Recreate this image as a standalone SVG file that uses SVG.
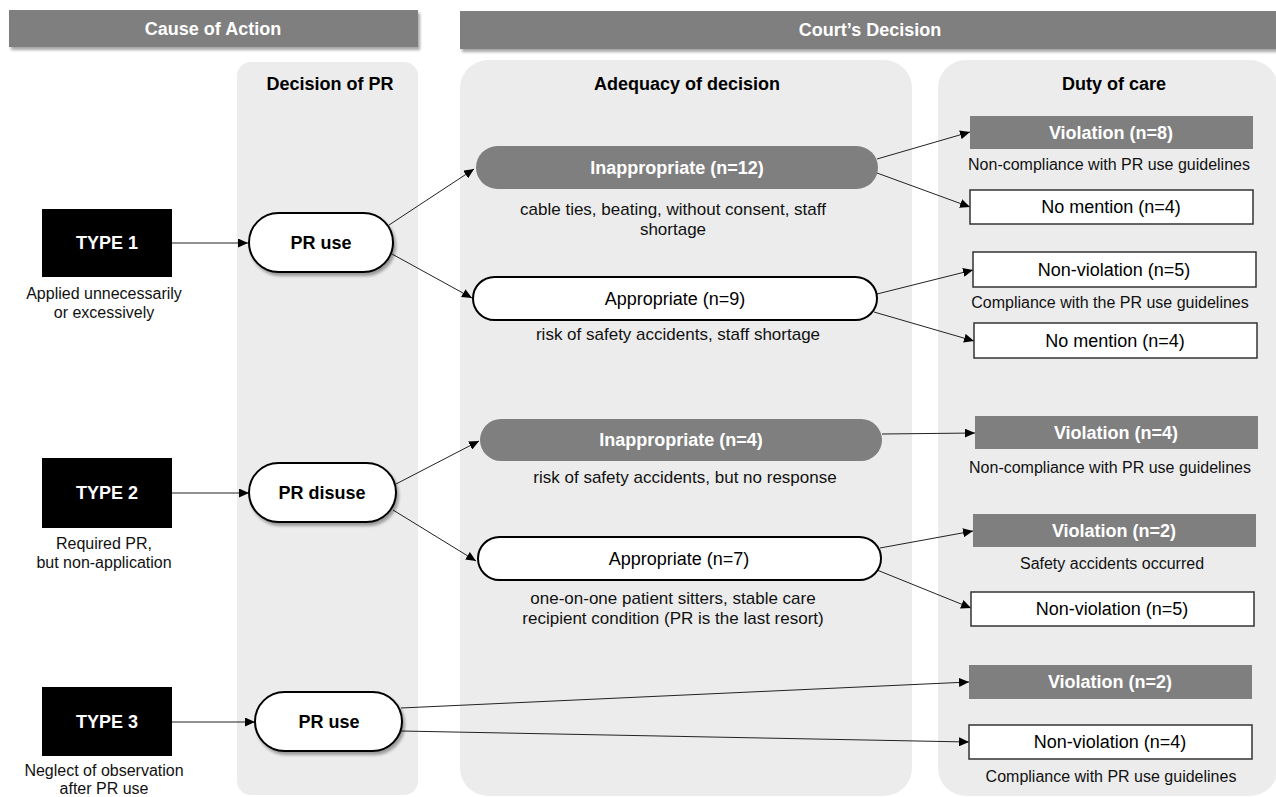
<svg xmlns="http://www.w3.org/2000/svg" width="1276" height="797" viewBox="0 0 1276 797">
<style>
text{font-family:"Liberation Sans",Arial,sans-serif;text-anchor:middle}
.hdr{fill:#7f7f7f}
.hdrt{fill:#fff;font-weight:bold;font-size:18px}
.col{fill:#ececec}
.colt{fill:#000;font-weight:bold;font-size:18px}
.type{fill:#000}
.typet{fill:#fff;font-weight:bold;font-size:18px}
.pill{fill:#fff;stroke:#000;stroke-width:2}
.pillt{fill:#000;font-weight:bold;font-size:18px}
.gpill{fill:#7f7f7f}
.gt{fill:#fff;font-weight:bold;font-size:18px}
.wpill{fill:#fff;stroke:#000;stroke-width:2}
.wt{fill:#000;font-size:18px}
.gbox{fill:#7f7f7f}
.wbox{fill:#fff;stroke:#333;stroke-width:1.5}
.note{fill:#111;font-size:16px}
.note17{fill:#111;font-size:17px}
.conn line{stroke:#222;stroke-width:1;fill:none}
</style>
<defs>
<filter id="sh" x="-10%" y="-20%" width="130%" height="160%">
<feDropShadow dx="2" dy="3" stdDeviation="1.5" flood-color="#000" flood-opacity="0.35"/>
</filter>
<marker id="arr" markerUnits="userSpaceOnUse" markerWidth="11" markerHeight="9" refX="10" refY="4.5" orient="auto">
<path d="M0,0 L10,4.5 L0,9 z" fill="#000"/>
</marker>
</defs>
<rect width="1276" height="797" fill="#fff"/>

<g id="headers">
<rect class="hdr" x="9" y="10" width="409" height="37" filter="url(#sh)"/>
<text class="hdrt" x="213" y="35">Cause of Action</text>
<rect class="hdr" x="460" y="11" width="820" height="38" filter="url(#sh)"/>
<text class="hdrt" x="870" y="36">Court’s Decision</text>
</g>

<g id="columns">
<rect class="col" x="237" y="62" width="181" height="733" rx="14"/>
<text class="colt" x="330" y="90">Decision of PR</text>
<rect class="col" x="460" y="60" width="452" height="736" rx="28"/>
<text class="colt" x="687" y="90">Adequacy of decision</text>
<rect class="col" x="938" y="60" width="340" height="736" rx="28"/>
<text class="colt" x="1114" y="90">Duty of care</text>
</g>

<g class="conn" id="connectors">
<line x1="172" y1="243" x2="248" y2="243" marker-end="url(#arr)"/>
<line x1="389" y1="225" x2="474" y2="169" marker-end="url(#arr)"/>
<line x1="392" y1="254" x2="472" y2="298" marker-end="url(#arr)"/>
<line x1="877" y1="159" x2="970" y2="132" marker-end="url(#arr)"/>
<line x1="877" y1="173" x2="970" y2="207" marker-end="url(#arr)"/>
<line x1="877" y1="294" x2="973" y2="270" marker-end="url(#arr)"/>
<line x1="874" y1="312" x2="974" y2="341" marker-end="url(#arr)"/>
<line x1="172" y1="493" x2="249" y2="493" marker-end="url(#arr)"/>
<line x1="396" y1="484" x2="479" y2="441" marker-end="url(#arr)"/>
<line x1="393" y1="510" x2="476" y2="561" marker-end="url(#arr)"/>
<line x1="882" y1="434" x2="975" y2="433" marker-end="url(#arr)"/>
<line x1="880" y1="548" x2="973" y2="531" marker-end="url(#arr)"/>
<line x1="877" y1="570" x2="971" y2="608" marker-end="url(#arr)"/>
<line x1="172" y1="722" x2="255" y2="722" marker-end="url(#arr)"/>
<line x1="401" y1="708" x2="969" y2="682" marker-end="url(#arr)"/>
<line x1="401" y1="731" x2="969" y2="742" marker-end="url(#arr)"/>
</g>

<g id="type1">
<rect class="type" x="42" y="209" width="130" height="68"/>
<text class="typet" x="107" y="249">TYPE 1</text>
<text class="note" x="104" y="299">Applied unnecessarily</text>
<text class="note" x="104" y="318">or excessively</text>
</g>
<g id="type2">
<rect class="type" x="42" y="458" width="130" height="70"/>
<text class="typet" x="107" y="499">TYPE 2</text>
<text class="note" x="104" y="549">Required PR,</text>
<text class="note" x="104" y="568">but non-application</text>
</g>
<g id="type3">
<rect class="type" x="42" y="687" width="130" height="69"/>
<text class="typet" x="107" y="728">TYPE 3</text>
<text class="note" x="104" y="776">Neglect of observation</text>
<text class="note" x="104" y="794">after PR use</text>
</g>

<g id="pr-use-1">
<rect class="pill" x="249" y="213" width="144" height="59" rx="29.5" filter="url(#sh)"/>
<text class="pillt" x="321" y="249">PR use</text>
</g>
<g id="pr-disuse">
<rect class="pill" x="249" y="463" width="147" height="59" rx="29.5" filter="url(#sh)"/>
<text class="pillt" x="322" y="499">PR disuse</text>
</g>
<g id="pr-use-3">
<rect class="pill" x="255" y="692" width="147" height="59" rx="29.5" filter="url(#sh)"/>
<text class="pillt" x="329" y="728">PR use</text>
</g>

<g id="inapp-12">
<rect class="gpill" x="476" y="146" width="402" height="43" rx="21.5"/>
<text class="gt" x="677" y="174">Inappropriate (n=12)</text>
<text class="note17" x="673" y="215">cable ties, beating, without consent, staff</text>
<text class="note17" x="673" y="235">shortage</text>
</g>
<g id="app-9">
<rect class="wpill" x="473" y="277" width="404" height="43" rx="21.5"/>
<text class="wt" x="675" y="305">Appropriate (n=9)</text>
<text class="note17" x="678" y="340">risk of safety accidents, staff shortage</text>
</g>
<g id="inapp-4">
<rect class="gpill" x="480" y="419" width="402" height="42" rx="21"/>
<text class="gt" x="681" y="446">Inappropriate (n=4)</text>
<text class="note17" x="685" y="483">risk of safety accidents, but no response</text>
</g>
<g id="app-7">
<rect class="wpill" x="478" y="537" width="403" height="43" rx="21.5"/>
<text class="wt" x="679" y="565">Appropriate (n=7)</text>
<text class="note17" x="673" y="604">one-on-one patient sitters, stable care</text>
<text class="note17" x="673" y="624">recipient condition (PR is the last resort)</text>
</g>

<g id="violation-8">
<rect class="gbox" x="970" y="116" width="283" height="33"/>
<text class="gt" x="1111" y="139">Violation (n=8)</text>
<text class="note" x="1109" y="170">Non-compliance with PR use guidelines</text>
</g>
<g id="nomention-4a">
<rect class="wbox" x="970" y="190" width="283" height="34"/>
<text class="wt" x="1111" y="213">No mention (n=4)</text>
</g>
<g id="nonviolation-5a">
<rect class="wbox" x="973" y="252" width="283" height="35"/>
<text class="wt" x="1114" y="276">Non-violation (n=5)</text>
<text class="note" x="1110" y="308">Compliance with the PR use guidelines</text>
</g>
<g id="nomention-4b">
<rect class="wbox" x="974" y="323" width="283" height="35"/>
<text class="wt" x="1115" y="347">No mention (n=4)</text>
</g>
<g id="violation-4">
<rect class="gbox" x="975" y="416" width="283" height="33"/>
<text class="gt" x="1116" y="439">Violation (n=4)</text>
<text class="note" x="1110" y="473">Non-compliance with PR use guidelines</text>
</g>
<g id="violation-2a">
<rect class="gbox" x="973" y="514" width="283" height="33"/>
<text class="gt" x="1114" y="537">Violation (n=2)</text>
<text class="note" x="1112" y="569">Safety accidents occurred</text>
</g>
<g id="nonviolation-5b">
<rect class="wbox" x="971" y="592" width="283" height="34"/>
<text class="wt" x="1112" y="615">Non-violation (n=5)</text>
</g>
<g id="violation-2b">
<rect class="gbox" x="969" y="665" width="283" height="34"/>
<text class="gt" x="1110" y="688">Violation (n=2)</text>
</g>
<g id="nonviolation-4">
<rect class="wbox" x="969" y="725" width="283" height="34"/>
<text class="wt" x="1110" y="748">Non-violation (n=4)</text>
<text class="note" x="1111" y="782">Compliance with PR use guidelines</text>
</g>
</svg>
